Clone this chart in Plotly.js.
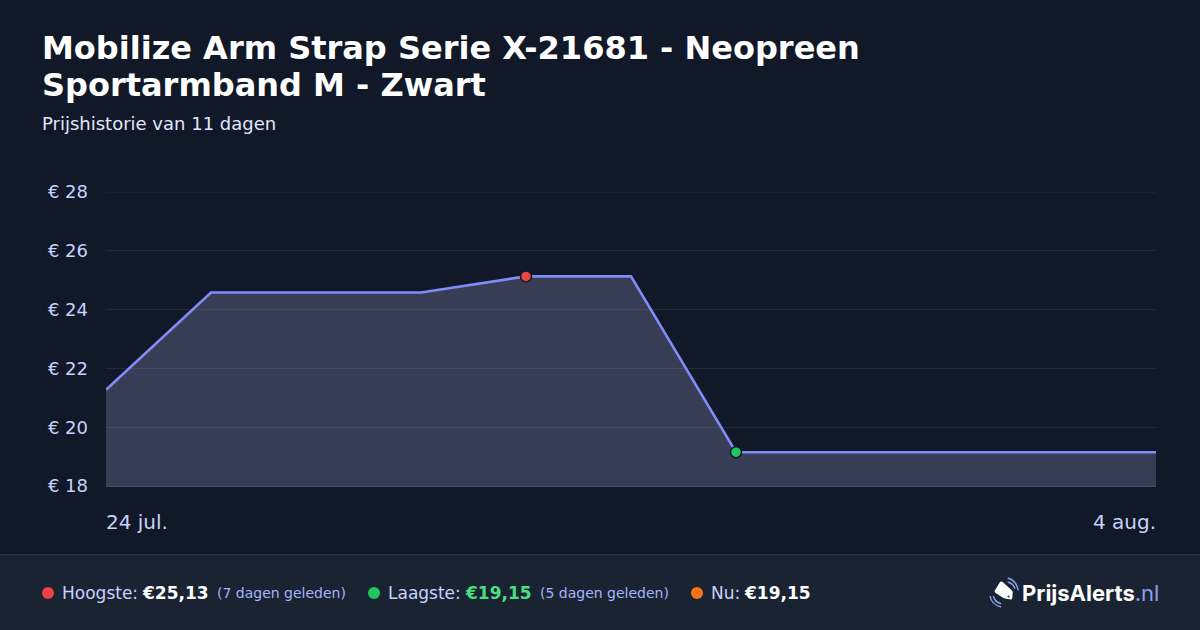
<!DOCTYPE html>
<html><head><meta charset="utf-8">
<script src="https://cdn.plot.ly/plotly-3.0.1.min.js"></script>
<style>html,body{margin:0;padding:0;background:#111827}#c{width:1200px;height:630px}</style>
</head><body><div id="c"></div>
<script>
const titleLine1 = "Mobilize Arm Strap Serie X-21681 - Neopreen";
const titleLine2 = "Sportarmband M - Zwart";
const subtitleText = "Prijshistorie van 11 dagen";
const pointIndex = [0,1,2,3,4,5,6,7,8,9,10];
const prices = [21.27,24.58,24.58,24.58,25.13,25.13,19.15,19.15,19.15,19.15,19.15];
const yTicks = [18,20,22,24,26,28];
const yTickLabels = ["€ 18","€ 20","€ 22","€ 24","€ 26","€ 28"];
const firstDate = "24 jul.";
const lastDate = "4 aug.";
const highIndex = 4, lowIndex = 6;

const W=1200,H=630;
const L=106,R=1156,T=192,B=486;
const px=x=>(x-L)/(R-L), py=y=>(B-y)/(B-T);

const BG="#111827",FOOT="#1a2332",LINE="#818cf8",TXT="#c7d2fe",GRID="rgba(255,255,255,0.08)";
const FONT="DejaVu Sans, sans-serif";

function note(x,y,text,size,color,anchor,fam){
  return {xref:"paper",yref:"paper",x:px(x),y:py(y),text:text,showarrow:false,
    xanchor:anchor||"left",yanchor:"middle",align:anchor||"left",
    font:{family:fam||FONT,size:size,color:color},borderpad:0,borderwidth:0};
}
function dot(cx,cy,r,color){
  return {type:"circle",xref:"paper",yref:"paper",layer:"above",
    x0:px(cx-r),x1:px(cx+r),y0:py(cy+r),y1:py(cy-r),fillcolor:color,line:{width:0}};
}
function path(d,fill,lineColor,lw){
  const s=d.map(c=>typeof c==="string"?c:px(c[0])+","+py(c[1])).join(" ");
  return {type:"path",xref:"paper",yref:"paper",layer:"above",path:s,
    fillcolor:fill||"rgba(0,0,0,0)",line:{color:lineColor||"rgba(0,0,0,0)",width:lw||0}};
}
const shapes=[
  {type:"rect",xref:"paper",yref:"paper",layer:"below",x0:px(0),x1:px(W),y0:py(630),y1:py(555),fillcolor:FOOT,line:{width:0}},
  {type:"line",xref:"paper",yref:"paper",layer:"below",x0:px(0),x1:px(W),y0:py(554.5),y1:py(554.5),line:{color:"#2a3357",width:1}},
  {type:"line",xref:"paper",yref:"y",layer:"below",x0:0,x1:1,y0:yTicks[yTicks.length-1],y1:yTicks[yTicks.length-1],line:{color:GRID,width:1}},
  dot(48,593,6,"#ef4444"),dot(374,593,6,"#22c55e"),dot(697,593,6,"#f97316"),
  path(["M",[1000,582],"Q",[1001.5,581],[1003,582.2],"L",[1012,590.5],"Q",[1012.8,591.3],[1012.7,592.5],"L",[1012.3,598],"Q",[1012,599.6],[1010.6,599.5],"L",[1005,598.6],"Q",[1004,598.4],[1003,597.8],"L",[995.3,592.8],"Q",[994,591.8],[994.8,590.5],"Z"],"#ffffff"),
  dot(1008.5,596.5,1,"#1a2332"),
  path(["M",[1007.7,578],"Q",[1016.5,580.5],[1018.3,590.3]],null,"#8aa0e8",1.4),
  path(["M",[1007.7,582],"Q",[1013.5,583.5],[1015,588.7]],null,"#8aa0e8",1.4),
  path(["M",[990,596],"Q",[991.5,604.5],[1001,607]],null,"#8aa0e8",1.4),
  path(["M",[993.3,596],"Q",[994.5,602],[1001,603.7]],null,"#8aa0e8",1.4)
];
const annotations=[
  note(42,85,"<b>"+titleLine2+"</b>",32,"#ffffff"),
  note(42,124,subtitleText,18,"#e0e7ff"),
  {xref:"x",yref:"paper",x:pointIndex[0],y:py(521.5),text:firstDate,showarrow:false,xanchor:"left",yanchor:"middle",xshift:-1,borderpad:0,font:{family:FONT,size:20,color:TXT}},
  {xref:"x",yref:"paper",x:pointIndex[pointIndex.length-1],y:py(521.5),text:lastDate,showarrow:false,xanchor:"right",yanchor:"middle",xshift:1,borderpad:0,font:{family:FONT,size:20,color:TXT}},
  note(62,593,"Hoogste:",17,TXT),
  note(142,593,"<b>€25,13</b>",17,"#ffffff"),
  note(217,593,"(7 dagen geleden)",14,"#a5b4fc"),
  note(388,593,"Laagste:",17,TXT),
  note(465,593,"<b>€19,15</b>",17,"#4ade80"),
  note(540,593,"(5 dagen geleden)",14,"#a5b4fc"),
  note(711,593,"Nu:",17,TXT),
  note(744,593,"<b>€19,15</b>",17,"#ffffff"),
  note(1022,593,"<b>PrijsAlerts</b><span style='color:#8ba0ee'>.nl</span>",22,"#ffffff","left","Inter, sans-serif")
];
const traces=[
  {type:"scatter",mode:"lines",x:pointIndex,y:prices,fill:"tozeroy",fillcolor:"rgba(180,180,235,0.24)",
   line:{color:LINE,width:2.6},hoverinfo:"skip",showlegend:false},
  {type:"scatter",mode:"markers",x:[pointIndex[highIndex],pointIndex[lowIndex]],y:[prices[highIndex],prices[lowIndex]],
   marker:{size:11,color:["#ef4444","#22c55e"],line:{color:BG,width:1.5}},showlegend:false,hoverinfo:"skip",cliponaxis:false}
];
const layout={
  width:W,height:H,paper_bgcolor:BG,plot_bgcolor:"rgba(0,0,0,0)",
  margin:{l:L,r:W-R,t:T,b:H-B,pad:0},showlegend:false,
  title:{text:"<b>"+titleLine1+"</b>",x:42/W,xref:"container",xanchor:"left",y:1-48/H,yref:"container",yanchor:"middle",
    font:{family:FONT,size:32,color:"#ffffff"}},
  xaxis:{type:"linear",range:[pointIndex[0],pointIndex[pointIndex.length-1]],showgrid:false,zeroline:false,showticklabels:false,ticks:"",
    showline:true,linecolor:"#4b5063",linewidth:1,fixedrange:true},
  yaxis:{range:[yTicks[0],yTicks[yTicks.length-1]],tickvals:yTicks,ticktext:yTickLabels,showgrid:true,gridcolor:GRID,gridwidth:1,
    zeroline:false,showline:false,ticks:"",ticklen:0,ticklabelstandoff:17,tickfont:{family:FONT,size:18,color:TXT},fixedrange:true,automargin:false},
  shapes:shapes,annotations:annotations
};
Plotly.newPlot("c",traces,layout,{displayModeBar:false,staticPlot:true});
</script></body></html>
